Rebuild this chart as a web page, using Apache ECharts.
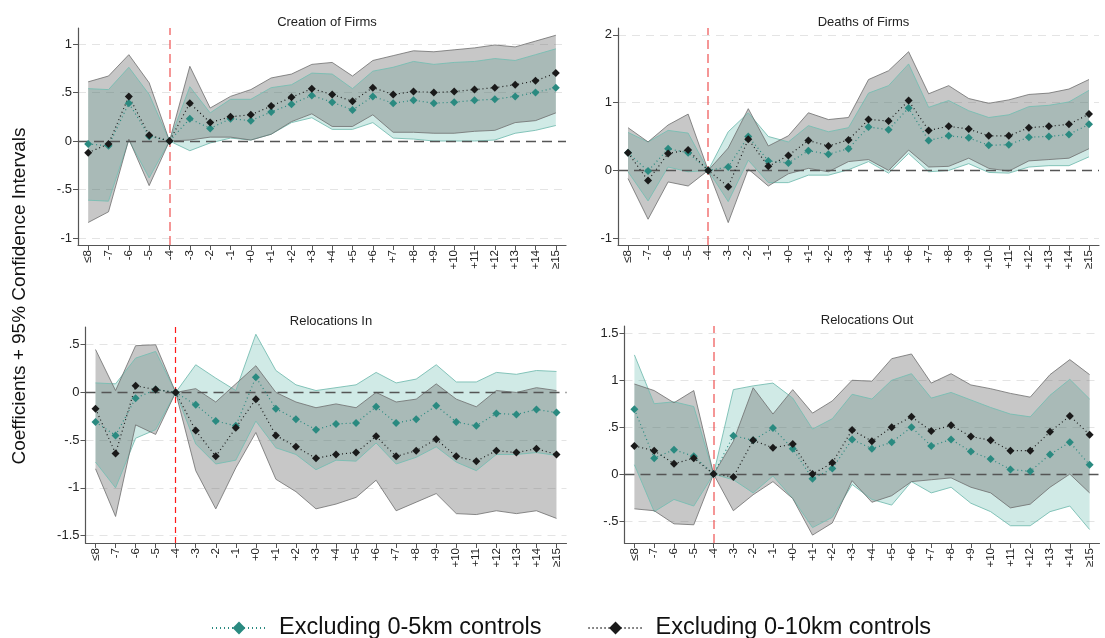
<!DOCTYPE html>
<html>
<head>
<meta charset="utf-8">
<title>Event study coefficients</title>
<script src="https://cdn.jsdelivr.net/npm/echarts@6.0.0/dist/echarts.min.js"></script>
<style>
  html, body { margin: 0; padding: 0; background: #fff; }
  #chart { width: 1105px; height: 638px; }
</style>
</head>
<body>
<div id="chart"></div>
<script>
// event time categories
const cats = ['≤8', '-7', '-6', '-5', '-4', '-3', '-2', '-1', '+0', '+1', '+2', '+3', '+4', '+5', '+6', '+7', '+8', '+9', '+10', '+11', '+12', '+13', '+14', '≥15'];

const seriesNames = ['Excluding 0-5km controls', 'Excluding 0-10km controls'];

// Creation of Firms (T = 0-5km, B = 0-10km)
const creationT = [-0.03, -0.05, 0.39, 0.05, 0, 0.23, 0.13, 0.23, 0.21, 0.30, 0.38, 0.47, 0.40, 0.32, 0.46, 0.39, 0.42, 0.39, 0.40, 0.42, 0.43, 0.46, 0.50, 0.55];
const creationTLo = [-0.61, -0.62, 0.01, -0.38, 0, -0.10, -0.02, 0.03, 0.01, 0.07, 0.19, 0.24, 0.12, 0.12, 0.19, 0.03, 0.02, 0.00, 0.00, 0.00, 0.01, 0.08, 0.11, 0.16];
const creationTHi = [0.54, 0.53, 0.76, 0.48, 0, 0.56, 0.29, 0.43, 0.43, 0.55, 0.58, 0.70, 0.69, 0.54, 0.72, 0.76, 0.82, 0.79, 0.81, 0.82, 0.85, 0.83, 0.89, 0.95];
const creationB = [-0.12, -0.03, 0.46, 0.06, 0, 0.39, 0.19, 0.25, 0.27, 0.36, 0.45, 0.54, 0.48, 0.41, 0.55, 0.48, 0.51, 0.50, 0.51, 0.53, 0.55, 0.58, 0.62, 0.70];
const creationBLo = [-0.84, -0.73, 0.02, -0.46, 0, 0.01, 0.04, 0.04, 0.01, 0.07, 0.20, 0.28, 0.15, 0.15, 0.27, 0.09, 0.09, 0.08, 0.08, 0.10, 0.11, 0.19, 0.21, 0.29];
const creationBHi = [0.61, 0.67, 0.89, 0.60, 0, 0.77, 0.34, 0.46, 0.53, 0.65, 0.69, 0.79, 0.81, 0.67, 0.83, 0.88, 0.93, 0.92, 0.94, 0.96, 0.99, 0.97, 1.03, 1.09];

// Deaths of Firms
const deathsT = [0.26, -0.01, 0.32, 0.26, 0, 0.05, 0.50, 0.14, 0.11, 0.29, 0.24, 0.32, 0.64, 0.60, 0.92, 0.44, 0.51, 0.48, 0.37, 0.38, 0.49, 0.50, 0.53, 0.68];
const deathsTLo = [-0.02, -0.45, 0.05, -0.02, 0, -0.46, 0.15, -0.18, -0.18, -0.07, -0.07, 0.01, 0.13, -0.04, 0.25, -0.02, 0.00, 0.10, -0.03, -0.04, 0.05, 0.07, 0.07, 0.20];
const deathsTHi = [0.56, 0.42, 0.59, 0.55, 0, 0.57, 0.85, 0.50, 0.42, 0.66, 0.57, 0.63, 1.14, 1.25, 1.57, 0.93, 1.03, 0.88, 0.78, 0.82, 0.94, 0.96, 1.01, 1.18];
const deathsB = [0.26, -0.15, 0.25, 0.30, 0, -0.24, 0.46, 0.06, 0.22, 0.44, 0.36, 0.45, 0.75, 0.73, 1.03, 0.59, 0.65, 0.61, 0.51, 0.51, 0.63, 0.65, 0.68, 0.83];
const deathsBLo = [-0.12, -0.72, -0.17, -0.23, 0, -0.77, 0.02, -0.23, -0.05, 0.03, -0.02, 0.13, 0.16, 0.00, 0.30, 0.05, 0.06, 0.18, 0.03, -0.01, 0.14, 0.16, 0.18, 0.32];
const deathsBHi = [0.63, 0.42, 0.67, 0.83, 0, 0.33, 0.91, 0.36, 0.51, 0.85, 0.75, 0.78, 1.34, 1.47, 1.75, 1.13, 1.25, 1.06, 0.99, 1.04, 1.12, 1.14, 1.20, 1.34];

// Relocations In
const relInT = [-0.31, -0.45, -0.06, 0.03, 0, -0.13, -0.30, -0.35, 0.16, -0.17, -0.28, -0.39, -0.33, -0.32, -0.15, -0.32, -0.28, -0.14, -0.31, -0.35, -0.22, -0.23, -0.18, -0.21];
const relInTLo = [-0.73, -1.00, -0.48, -0.39, 0, -0.54, -0.75, -0.71, -0.30, -0.58, -0.65, -0.81, -0.71, -0.72, -0.53, -0.75, -0.68, -0.57, -0.73, -0.82, -0.65, -0.65, -0.63, -0.66];
const relInTHi = [0.10, 0.09, 0.36, 0.43, 0, 0.29, 0.15, 0.02, 0.61, 0.23, 0.08, 0.02, 0.05, 0.08, 0.21, 0.10, 0.14, 0.29, 0.11, 0.11, 0.21, 0.19, 0.23, 0.22];
const relInB = [-0.17, -0.64, 0.07, 0.03, 0, -0.40, -0.67, -0.37, -0.07, -0.45, -0.57, -0.69, -0.65, -0.63, -0.46, -0.67, -0.61, -0.49, -0.67, -0.72, -0.61, -0.63, -0.59, -0.65];
const relInBLo = [-0.80, -1.30, -0.34, -0.44, 0, -0.82, -1.22, -0.79, -0.42, -0.91, -1.04, -1.22, -1.17, -1.10, -0.92, -1.24, -1.15, -1.06, -1.27, -1.28, -1.24, -1.27, -1.24, -1.32];
const relInBHi = [0.45, 0.02, 0.49, 0.50, 0, 0.04, -0.10, 0.09, 0.28, 0.00, -0.10, -0.16, -0.12, -0.16, 0.00, -0.10, -0.07, 0.09, -0.07, -0.15, 0.02, 0.00, 0.05, 0.02];

// Relocations Out
const relOutT = [0.69, 0.17, 0.26, 0.19, 0, 0.41, 0.36, 0.49, 0.27, -0.05, 0.06, 0.37, 0.27, 0.34, 0.50, 0.30, 0.37, 0.24, 0.16, 0.05, 0.03, 0.21, 0.34, 0.10];
const relOutTLo = [0.10, -0.40, -0.27, -0.34, 0, -0.06, -0.20, -0.02, -0.26, -0.57, -0.46, -0.11, -0.27, -0.33, -0.08, -0.20, -0.14, -0.31, -0.40, -0.55, -0.55, -0.40, -0.34, -0.59];
const relOutTHi = [1.27, 0.75, 0.77, 0.72, 0, 0.90, 0.94, 0.97, 0.81, 0.48, 0.59, 0.85, 0.80, 1.00, 1.07, 0.81, 0.87, 0.79, 0.71, 0.64, 0.61, 0.84, 1.01, 0.80];
const relOutB = [0.30, 0.25, 0.11, 0.17, 0, -0.03, 0.36, 0.28, 0.32, 0.00, 0.12, 0.47, 0.35, 0.50, 0.61, 0.46, 0.52, 0.40, 0.36, 0.25, 0.25, 0.45, 0.62, 0.42];
const relOutBLo = [-0.37, -0.39, -0.53, -0.54, 0, -0.39, -0.22, -0.08, -0.26, -0.65, -0.52, -0.07, -0.30, -0.23, -0.08, -0.06, -0.04, -0.14, -0.20, -0.36, -0.32, -0.14, 0.00, -0.20];
const relOutBHi = [0.96, 0.89, 0.76, 0.89, 0, 0.35, 0.92, 0.64, 0.90, 0.65, 0.78, 1.00, 0.99, 1.23, 1.28, 0.97, 1.07, 0.95, 0.91, 0.86, 0.82, 1.06, 1.22, 1.06];

// y tick values per panel
const creationTicks = [-1, -0.5, 0, 0.5, 1];
const deathsTicks = [-1, 0, 1, 2];
const relInTicks = [-1.5, -1, -0.5, 0, 0.5];
const relOutTicks = [-0.5, 0, 0.5, 1, 1.5];

const TEAL = '#2a8a80';
const BLACK = '#1a1a1a';
const FONT = '"Liberation Sans", Arial, Helvetica, sans-serif';
const PINK_LINE = { color: 'rgba(240,90,90,0.85)', width: 1.5, type: [9, 5] };
const RED_LINE = { color: '#ff1a1a', width: 1.2, type: [6, 4] };

const panels = [
  { title: 'Creation of Firms', left: 78, top: 28, width: 488, height: 217, min: -1.072, max: 1.165, ticks: creationTicks,
    t: creationT, tLo: creationTLo, tHi: creationTHi, b: creationB, bLo: creationBLo, bHi: creationBHi, red: PINK_LINE },
  { title: 'Deaths of Firms', left: 618, top: 28, width: 481, height: 217, min: -1.10, max: 2.10, ticks: deathsTicks,
    t: deathsT, tLo: deathsTLo, tHi: deathsTHi, b: deathsB, bLo: deathsBLo, bHi: deathsBHi, red: PINK_LINE },
  { title: 'Relocations In', left: 85.5, top: 327, width: 481, height: 216, min: -1.578, max: 0.686, ticks: relInTicks,
    t: relInT, tLo: relInTLo, tHi: relInTHi, b: relInB, bLo: relInBLo, bHi: relInBHi, red: RED_LINE },
  { title: 'Relocations Out', left: 624.5, top: 326, width: 475, height: 217, min: -0.734, max: 1.578, ticks: relOutTicks,
    t: relOutT, tLo: relOutTLo, tHi: relOutTHi, b: relOutB, bLo: relOutBLo, bHi: relOutBHi, red: PINK_LINE }
];

// Stata style tick labels: .5, -.5
function fmtTick(v) {
  return String(v).replace(/^(-?)0\./, '$1.');
}

function diff(hi, lo) {
  return hi.map((v, k) => +(v - lo[k]).toFixed(3));
}

function bandSeries(i, lo, hi, stackId, edge, fill) {
  return [
    {
      type: 'line', xAxisIndex: i, yAxisIndex: i, data: lo, stack: stackId, stackStrategy: 'all',
      symbol: 'none', silent: true, z: 2,
      lineStyle: { color: edge, width: 1 }
    },
    {
      type: 'line', xAxisIndex: i, yAxisIndex: i, data: diff(hi, lo), stack: stackId, stackStrategy: 'all',
      symbol: 'none', silent: true, z: 2,
      lineStyle: { color: edge, width: 1 },
      areaStyle: { color: fill, opacity: 1 }
    }
  ];
}

function pointSeries(i, name, data, color) {
  return {
    name: name,
    type: 'line', xAxisIndex: i, yAxisIndex: i, data: data,
    symbol: 'diamond', symbolSize: 8, z: 4,
    itemStyle: { color: color },
    lineStyle: { color: color, width: 1.2, type: [1, 3] }
  };
}

function refLine(i, item, style) {
  return {
    type: 'line', xAxisIndex: i, yAxisIndex: i, data: [], silent: true,
    itemStyle: { color: style.color },
    markLine: {
      silent: true, symbol: 'none', z: 3, animation: false,
      label: { show: false },
      lineStyle: style,
      data: [Object.assign({ lineStyle: style }, item)]
    }
  };
}

const series = [];
panels.forEach((p, i) => {
  // light dashed grid lines
  series.push({
    type: 'line', xAxisIndex: i, yAxisIndex: i, data: [], silent: true,
    markLine: {
      silent: true, symbol: 'none', z: 0, animation: false,
      label: { show: false },
      lineStyle: { color: '#e4e4e4', type: [8, 6], width: 1 },
      data: p.ticks.filter(v => v !== 0).map(v => ({ yAxis: v }))
    }
  });
  series.push(...bandSeries(i, p.tLo, p.tHi, 'teal' + i, 'rgba(120,190,178,0.9)', 'rgba(40,160,140,0.22)'));
  series.push(...bandSeries(i, p.bLo, p.bHi, 'gray' + i, 'rgba(110,110,110,0.8)', 'rgba(100,100,100,0.36)'));
  // zero line and the -4 reference line
  series.push(refLine(i, { yAxis: 0 }, { color: '#555', width: 1.3, type: [10, 6] }));
  series.push(refLine(i, { xAxis: 4 }, p.red));
  series.push(pointSeries(i, seriesNames[0], p.t, TEAL));
  series.push(pointSeries(i, seriesNames[1], p.b, BLACK));
});

const option = {
  animation: false,
  textStyle: { fontFamily: FONT },
  title: panels.map(p => ({
    text: p.title,
    left: p.left + p.width / 2,
    top: p.top - 17,
    textAlign: 'center',
    textStyle: { fontSize: 13, fontWeight: 'normal', color: '#222', fontFamily: FONT }
  })),
  grid: panels.map(p => ({
    left: p.left, top: p.top, width: p.width, height: p.height, outerBoundsMode: 'none'
  })),
  xAxis: panels.map((p, i) => ({
    type: 'category',
    gridIndex: i,
    data: cats,
    boundaryGap: true,
    axisLine: { show: true, onZero: false, lineStyle: { color: '#555', width: 1.2 } },
    axisTick: { show: true, alignWithLabel: true, interval: 0, length: 5, lineStyle: { color: '#555' } },
    axisLabel: { rotate: 90, interval: 0, fontSize: 11.5, color: '#222', margin: 5 },
    splitLine: { show: false }
  })),
  yAxis: panels.map((p, i) => ({
    type: 'value',
    gridIndex: i,
    min: p.min,
    max: p.max,
    axisLine: { show: true, lineStyle: { color: '#555', width: 1.2 } },
    axisTick: { show: true, length: 5, customValues: p.ticks, lineStyle: { color: '#555' } },
    axisLabel: { customValues: p.ticks, formatter: fmtTick, fontSize: 13, color: '#222', margin: 6 },
    splitLine: { show: false }
  })),
  legend: {
    data: seriesNames,
    left: 206,
    top: 611,
    itemWidth: 54,
    itemHeight: 16,
    itemGap: 46,
    textStyle: { fontSize: 23.5, color: '#111', fontFamily: FONT, padding: [0, 0, 0, 8] }
  },
  graphic: [{
    type: 'text',
    x: 20,
    y: 296,
    rotation: Math.PI / 2,
    style: {
      text: 'Coefficients + 95% Confidence Intervals',
      fontSize: 19,
      fontFamily: FONT,
      fill: '#111',
      align: 'center',
      verticalAlign: 'middle'
    }
  }],
  series: series
};

const chart = echarts.init(document.getElementById('chart'), null, { renderer: 'canvas' });
chart.setOption(option);
</script>
</body>
</html>
